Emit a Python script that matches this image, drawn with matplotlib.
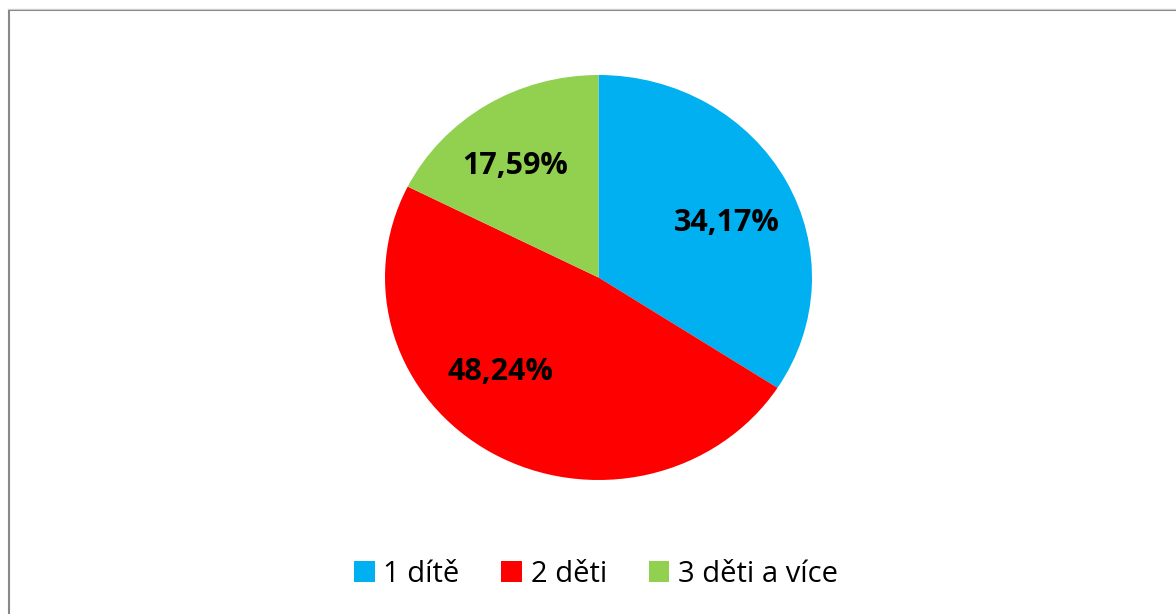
import matplotlib
matplotlib.use('Agg')
import matplotlib.pyplot as plt
from matplotlib.lines import Line2D
from matplotlib.patches import Patch

# data
kategorie = ['1 dítě', '2 děti', '3 děti a více']
podily = [34.17, 48.24, 17.59]
barvy = ['#00B0F0', '#FF0000', '#92D050']

# label positions (pie data coords, radius = 1)
pozice_popisku = [(0.60, 0.27), (-0.46, -0.465), (-0.39, 0.55)]

W, H = 1176, 614
fig = plt.figure(figsize=(W / 100, H / 100), dpi=100)
fig.patch.set_facecolor('white')

# pie axes covers exactly the pie's bounding box
ax = fig.add_axes([385 / W, 1 - 480 / H, 427 / W, 405 / H])
wedges, texts = ax.pie(podily, colors=barvy, startangle=90, counterclock=False,
                       labels=[f'{p:.2f}%'.replace('.', ',') for p in podily],
                       labeldistance=0.6,
                       wedgeprops=dict(linewidth=0))
ax.set_aspect('auto')
ax.set_xlim(-1, 1)
ax.set_ylim(-1, 1)
for t, (x, y) in zip(texts, pozice_popisku):
    t.set_position((x, y))
    t.set_ha('center')
    t.set_va('center')
    t.set_fontsize(22)
    t.set_fontweight('bold')
    t.set_family(['Open Sans', 'DejaVu Sans'])
    t.set_color('black')

# legend
handles = [Patch(facecolor=c, edgecolor='none') for c in barvy]
fig.legend(handles, kategorie, loc='center', bbox_to_anchor=(596 / W, 1 - 574 / H),
           ncol=3, frameon=False, handlelength=0.7, handleheight=0.7,
           handletextpad=0.3, columnspacing=1.43,
           prop={'family': ['Open Sans', 'DejaVu Sans'], 'size': 21})

# frame (only top and left edge visible)
x0 = 8.5 / W
y0 = 1 - 10 / H
fig.add_artist(Line2D([x0, x0, 1], [0, y0, y0], transform=fig.transFigure,
                      color='#888888', lw=1.5, solid_joinstyle='miter'))
fig.add_artist(Line2D([x0 - 1 / W, 1], [y0 + 1.5 / H, y0 + 1.5 / H], transform=fig.transFigure,
                      color='#cccccc', lw=0.8))

fig.savefig('out.png', dpi=100)
